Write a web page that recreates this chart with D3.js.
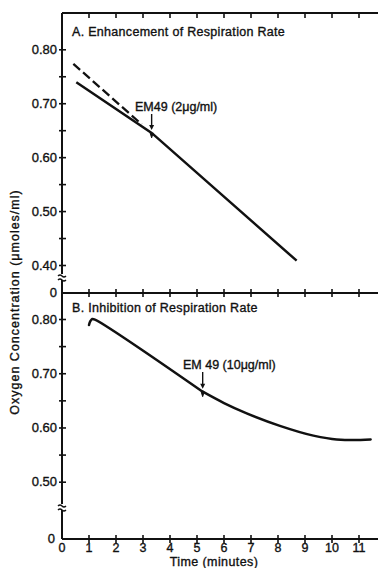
<!DOCTYPE html>
<html>
<head>
<meta charset="utf-8">
<script src="https://cdn.jsdelivr.net/npm/d3@7"></script>
<style>
  html, body { margin: 0; padding: 0; background: #fff; }
  svg { display: block; }
  text { font-family: "Liberation Sans", Arial, sans-serif; fill: #111; stroke: #111; stroke-width: 0.35px; }
</style>
</head>
<body>
<div id="chart"></div>
<script>
// data (time in minutes, O2 in umoles/ml)
const timeTicks = [0, 1, 2, 3, 4, 5, 6, 7, 8, 9, 10, 11];
const yTicksA = [0.40, 0.45, 0.50, 0.55, 0.60, 0.65, 0.70, 0.75, 0.80];
const yTicksB = [0.50, 0.55, 0.60, 0.65, 0.70, 0.75, 0.80];

// panel A: solid trace, with the kink where EM49 is added
const traceA = [[0.53, 0.739], [3.32, 0.645], [8.69, 0.408]];
// panel A: dashed back-extrapolation of the faster rate
const dashA = [[0.42, 0.773], [2.95, 0.661]];
const addA = { t: 3.32, v: 0.645, label: "EM49 (2\u03bcg/ml)" };

// panel B: hook + straight run before the addition, curved decay after it
const traceB1 = [[1.0, 0.789], [1.05, 0.796], [1.12, 0.800], [1.22, 0.799], [5.21, 0.666]];
const traceB2 = [[5.21, 0.666], [6.0, 0.645], [6.84, 0.626], [8.07, 0.603], [9.31, 0.585],
  [10.17, 0.578], [10.79, 0.577], [11.43, 0.578]];
const addB = { t: 5.21, v: 0.666, label: "EM 49 (10\u03bcg/ml)" };

const width = 378, height = 568;
const left = 62, right = 378;
const topA = 13, baseA = 293, baseB = 539;

const svg = d3.select("#chart").append("svg")
  .attr("width", width).attr("height", height);

const x = d3.scaleLinear().domain([0, 11]).range([left, 359]);
const yA = d3.scaleLinear().domain([0.40, 0.80]).range([265, 49.3]);
const yB = d3.scaleLinear().domain([0.50, 0.80]).range([481.7, 319]);

const fmt = d => Math.abs(d * 10 - Math.round(d * 10)) < 1e-6 ? d3.format(".2f")(d) : "";

// frame lines
const frame = svg.append("g").attr("stroke", "#111").attr("stroke-width", 2).attr("fill", "none");
frame.append("line").attr("x1", left).attr("x2", right).attr("y1", topA).attr("y2", topA);
frame.append("line").attr("x1", left).attr("x2", right).attr("y1", baseA).attr("y2", baseA);
frame.append("line").attr("x1", left).attr("x2", right).attr("y1", baseB).attr("y2", baseB);
frame.append("line").attr("x1", left).attr("x2", left).attr("y1", topA).attr("y2", baseB);

// x ticks on the three horizontal lines
function xTicks(yPos, up, down) {
  svg.append("g").selectAll("line")
    .data(timeTicks.slice(1))
    .join("line")
    .attr("x1", d => x(d)).attr("x2", d => x(d))
    .attr("y1", yPos - up).attr("y2", yPos + down)
    .attr("stroke", "#111").attr("stroke-width", 1.6);
}
xTicks(topA, 0, 5);
xTicks(baseA, 4, 4);
xTicks(baseB, 4, 4);

// x tick labels under panel B
svg.append("g").selectAll("text")
  .data(timeTicks)
  .join("text")
  .attr("x", d => x(d)).attr("y", 552)
  .attr("text-anchor", "middle")
  .style("font-size", "12.5px")
  .text(d => d);

// y axes built with d3.axisLeft, then ticks made to cross the spine
function yAxis(scale, ticks) {
  const g = svg.append("g")
    .attr("transform", `translate(${left},0)`)
    .call(d3.axisLeft(scale).tickValues(ticks).tickSize(3).tickPadding(2).tickFormat(fmt));
  g.select(".domain").remove();
  g.selectAll(".tick line").attr("x2", -3).attr("x1", 4)
    .attr("stroke", "#111").attr("stroke-width", 1.6);
  g.selectAll(".tick text")
    .attr("fill", "#111")
    .style("font-family", '"Liberation Sans", Arial, sans-serif')
    .style("font-size", "13px");
  return g;
}
yAxis(yA, yTicksA);
yAxis(yB, yTicksB);

// zero labels at the foot of each y axis
[[baseA, 57], [baseB, 55]].forEach(([yy, xx]) => {
  svg.append("text").attr("x", xx).attr("y", yy + 4)
    .attr("text-anchor", "end").style("font-size", "13px").text("0");
});

// axis break marks
[277, 507].forEach(yy => {
  const b = svg.append("g").attr("transform", `translate(${left},${yy})`);
  b.append("rect").attr("x", -4).attr("y", -3).attr("width", 8).attr("height", 6).attr("fill", "#fff");
  [-2, 2].forEach(o => {
    b.append("path")
      .attr("d", `M-4,${o + 1} q2,-2 4,0 t4,0`)
      .attr("fill", "none").attr("stroke", "#111").attr("stroke-width", 1.4);
  });
});

// traces
const lineA = d3.line().x(d => x(d[0])).y(d => yA(d[1]));
const lineB1 = d3.line().x(d => x(d[0])).y(d => yB(d[1])).curve(d3.curveCatmullRom);
const lineB2 = d3.line().x(d => x(d[0])).y(d => yB(d[1])).curve(d3.curveMonotoneX);

svg.append("path").datum(traceA).attr("d", lineA)
  .attr("fill", "none").attr("stroke", "#111").attr("stroke-width", 2.5);
svg.append("path").datum(dashA).attr("d", lineA)
  .attr("fill", "none").attr("stroke", "#111").attr("stroke-width", 2.3)
  .attr("stroke-dasharray", "9,4");

svg.append("path").datum(traceB1).attr("d", lineB1)
  .attr("fill", "none").attr("stroke", "#111").attr("stroke-width", 2.5)
  .attr("stroke-linecap", "round");
svg.append("path").datum(traceB2).attr("d", lineB2)
  .attr("fill", "none").attr("stroke", "#111").attr("stroke-width", 2.5)
  .attr("stroke-linecap", "round");

// addition markers: label, down arrow, notch on the trace
function marker(add, scale, tx, ty, arrowTop) {
  const px = x(add.t), py = scale(add.v);
  svg.append("text").attr("x", tx).attr("y", ty)
    .style("font-size", "12.5px").text(add.label);
  svg.append("line").attr("x1", px).attr("x2", px)
    .attr("y1", arrowTop).attr("y2", py - 6)
    .attr("stroke", "#111").attr("stroke-width", 1.4);
  svg.append("path")
    .attr("d", `M${px - 2.5},${py - 8} L${px + 2.5},${py - 8} L${px},${py - 3} Z`)
    .attr("fill", "#111");
  svg.append("path")
    .attr("d", `M${px - 1.5},${py} L${px},${py + 5} L${px + 1.5},${py}`)
    .attr("fill", "#111").attr("stroke", "#111").attr("stroke-width", 1);
}
marker(addA, yA, 135, 111, 114);
marker(addB, yB, 183, 369, 372);

// panel titles
svg.append("text").attr("x", 72).attr("y", 36)
  .style("font-size", "12.5px").style("letter-spacing", "0.3px")
  .text("A. Enhancement of Respiration Rate");
svg.append("text").attr("x", 72).attr("y", 312)
  .style("font-size", "12.5px").style("letter-spacing", "0.3px")
  .text("B. Inhibition of Respiration Rate");

// axis titles
svg.append("text")
  .attr("transform", "translate(19,302) rotate(-90)")
  .attr("text-anchor", "middle")
  .style("font-size", "12.5px").style("letter-spacing", "1px")
  .text("Oxygen Concentration (\u03bcmoles/ml)");
svg.append("text").attr("x", 214).attr("y", 566)
  .attr("text-anchor", "middle")
  .style("font-size", "12.5px").style("letter-spacing", "0.4px")
  .text("Time (minutes)");
</script>
</body>
</html>
